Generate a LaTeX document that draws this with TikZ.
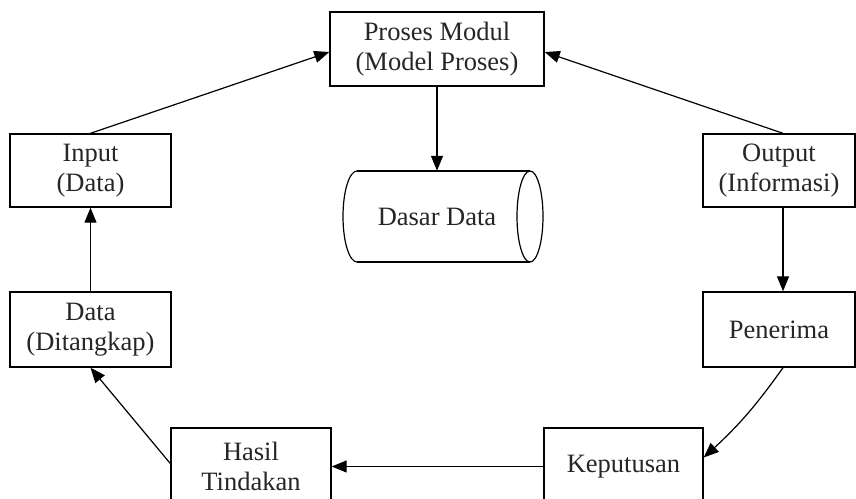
\documentclass[tikz,border=0pt]{standalone}
\usepackage{fontspec}
\setmainfont{Liberation Serif}
\usetikzlibrary{arrows.meta}
\begin{document}
\begin{tikzpicture}[x=1pt,y=-1pt,
  box/.style={draw=black, line width=1.4pt, fill=white, align=center, inner sep=0pt,
    font=\fontsize{26.5}{29.5}\selectfont, text=black!85},
  conn/.style={line width=1.2pt, -{Triangle[length=15pt,width=12pt]}},
  ]
\path[use as bounding box, clip] (0,0) rectangle (856,498);
\node[box, minimum width=214pt, minimum height=74pt] (pm) at (437,49) {Proses Modul\\(Model Proses)};
\node[box, minimum width=161pt, minimum height=73pt] (in) at (90.5,170.5) {Input\\(Data)};
\node[box, minimum width=161pt, minimum height=75pt] (dat) at (90.5,329.5) {Data\\(Ditangkap)};
\node[box, minimum width=152pt, minimum height=73pt] (out) at (779,170.5) {Output\\(Informasi)};
\node[box, minimum width=152pt, minimum height=75pt] (pen) at (779,329.5) {Penerima};
\node[box, minimum width=160pt, minimum height=77pt] (has) at (251,466.5) {Hasil\\Tindakan};
\node[box, minimum width=159pt, minimum height=77pt] (kep) at (623.5,466.5) {Keputusan};
% database cylinder
\draw[line width=1.2pt] (357,171) -- (530,171);
\draw[line width=1.2pt] (357,262) -- (530,262);
\draw[line width=1.2pt] (357,171) arc[start angle=270, end angle=90, x radius=14, y radius=45.5];
\draw[line width=1.2pt] (530,216.5) ellipse [x radius=13, y radius=45.5];
\node[inner sep=0pt, minimum width=150pt, minimum height=91pt,
  font=\fontsize{26.5}{29.5}\selectfont, text=black!85] (db) at (437,216.5) {Dasar Data};
% connectors
\draw[conn] (pm.south) -- (db.north);
\draw[conn] (in.north) -- ([yshift=-3pt]pm.west);
\draw[conn] ([xshift=4pt]out.north) -- ([yshift=-3pt]pm.east);
\draw[conn] ([xshift=4pt]out.south) -- ([xshift=4pt]pen.north);
\draw[conn] ([xshift=4pt]pen.south) to[bend left=6] ([yshift=9pt]kep.east);
\draw[conn] (kep.west) -- (has.east);
\draw[conn] ([yshift=3pt]has.west) -- (dat.south);
\draw[conn] (dat.north) -- (in.south);
\end{tikzpicture}
\end{document}
